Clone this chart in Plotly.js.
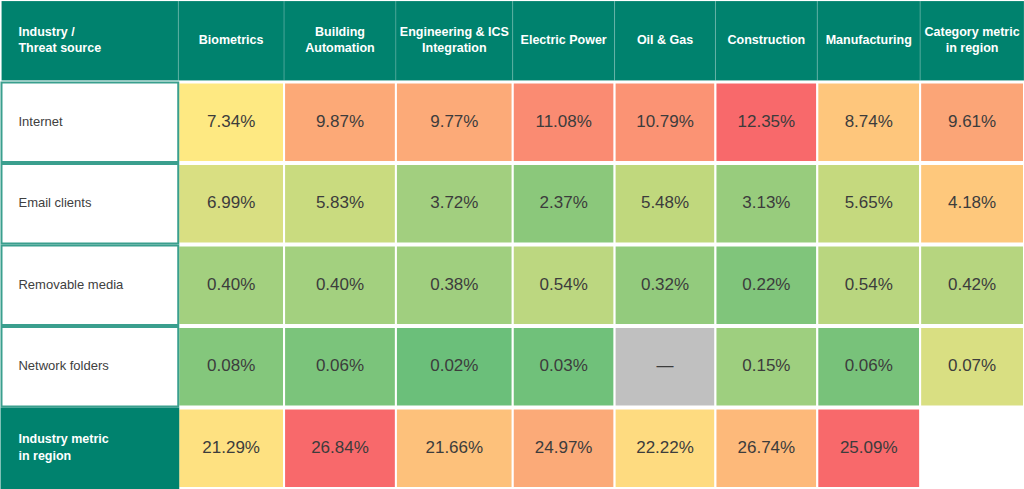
<!DOCTYPE html>
<html>
<head>
<meta charset="utf-8">
<script src="https://cdn.plot.ly/plotly-3.0.1.min.js"></script>
<style>
  html, body { margin: 0; padding: 0; background: #ffffff; }
  #chart { width: 1024px; height: 489px; }
</style>
</head>
<body>
<div id="chart"></div>
<script>
// ---------- DATA ----------
const cornerLabel = 'Industry /<br>Threat source';
const industries = ['Biometrics', 'Building<br>Automation', 'Engineering & ICS<br>Integration',
  'Electric Power', 'Oil & Gas', 'Construction', 'Manufacturing'];
const categoryColumnLabel = 'Category metric<br>in region';
const threatSources = ['Internet', 'Email clients', 'Removable media', 'Network folders'];
const totalRowLabel = 'Industry metric<br>in region';

// values per threat source: 7 industries + category metric in region (%)
const internet       = [7.34, 9.87, 9.77, 11.08, 10.79, 12.35, 8.74, 9.61];
const emailClients   = [6.99, 5.83, 3.72, 2.37, 5.48, 3.13, 5.65, 4.18];
const removableMedia = [0.40, 0.40, 0.38, 0.54, 0.32, 0.22, 0.54, 0.42];
const networkFolders = [0.08, 0.06, 0.02, 0.03, null, 0.15, 0.06, 0.07];
// industry metric in region (%)
const industryMetric = [21.29, 26.84, 21.66, 24.97, 22.22, 26.74, 25.09];

// ---------- STYLE ----------
const colWidths = [177, 106, 112, 117, 102, 101, 102, 103, 104];
const teal = '#00826e';
const tealBorder = '#3a9f8e';
const cellColors = [
  ['#fee982', '#fca977', '#fcaa78', '#fa8b72', '#fb9374', '#f8696b', '#fec67c', '#fba577'],
  ['#d9df82', '#c9db7f', '#a2cf7f', '#8bc87b', '#c0d87d', '#98cc7d', '#c5d97e', '#fec87c'],
  ['#a3d07f', '#a3d07f', '#a0cf7f', '#bcd780', '#93cb7d', '#80c57b', '#b9d67f', '#b6d57f'],
  ['#84c77c', '#7bc47b', '#6bbf7a', '#70c17a', '#c0c0c0', '#9ecf7f', '#78c27a', '#d9df82'],
  ['#fee181', '#f8696b', '#fdc17b', '#fbaa78', '#fedb80', '#fdb97a', '#f8696b', '#ffffff']
];
const valueFont = { family: '"Liberation Sans Narrow", "Arial Narrow", "Liberation Sans", Arial, sans-serif', size: 17, color: '#3c3c3c' };
const headFont = { family: '"Liberation Sans", Arial, sans-serif', size: 12.5, color: '#ffffff', weight: 'bold' };
const labelFont = { family: '"Liberation Sans", Arial, sans-serif', size: 13, color: '#404040' };
const labelX = 17;

// ---------- BUILD ----------
const rowKeys = ['head', ...threatSources, 'total'];
const valueRows = [internet, emailClients, removableMedia, networkFolders, industryMetric];
const nCols = colWidths.length;

const colLeft = [];
let acc = 0;
colWidths.forEach(w => { colLeft.push(acc); acc += w; });
const colCenter = colLeft.map((l, i) => l + colWidths[i] / 2);

const fillTraces = [];
for (let c = 0; c < nCols; c++) {
  const fills = [], lines = [], lw = [];
  rowKeys.forEach((k, r) => {
    if (r === 0) { fills.push(teal); lines.push('rgba(255,255,255,0.16)'); lw.push(1); }
    else if (c === 0) {
      if (k === 'total') { fills.push(teal); lines.push(teal); lw.push(2); }
      else { fills.push('#ffffff'); lines.push(tealBorder); lw.push(2); }
    } else {
      const col = cellColors[r - 1][c - 1];
      fills.push(col); lines.push('#ffffff'); lw.push(col === '#ffffff' ? 0 : 2);
    }
  });
  fillTraces.push({
    type: 'bar', orientation: 'h',
    y: rowKeys, x: rowKeys.map(() => colWidths[c]), base: rowKeys.map(() => colLeft[c]),
    marker: { color: fills, line: { color: lines, width: lw } },
    hoverinfo: 'skip', showlegend: false
  });
}
// draw the label column last so its teal frame stays on top
const traces = [...fillTraces.slice(1), fillTraces[0]];

// header texts
traces.push({
  type: 'scatter', mode: 'text', x: colCenter.slice(1), y: colCenter.slice(1).map(() => 'head'),
  text: [...industries, categoryColumnLabel], textposition: 'middle center',
  textfont: headFont, hoverinfo: 'skip', showlegend: false, cliponaxis: false
});
// left labels
traces.push({
  type: 'scatter', mode: 'text', x: [labelX, labelX], y: ['head', 'total'],
  text: [cornerLabel, totalRowLabel], textposition: 'middle right',
  textfont: headFont, hoverinfo: 'skip', showlegend: false, cliponaxis: false
});
traces.push({
  type: 'scatter', mode: 'text', x: threatSources.map(() => labelX), y: threatSources,
  text: threatSources, textposition: 'middle right',
  textfont: labelFont, hoverinfo: 'skip', showlegend: false, cliponaxis: false
});
// values
valueRows.forEach((vals, r) => {
  traces.push({
    type: 'scatter', mode: 'text',
    x: vals.map((v, i) => colCenter[i + 1]),
    y: vals.map(() => rowKeys[r + 1]),
    text: vals.map(v => v === null ? '—' : v.toFixed(2) + '%'),
    textposition: 'middle center', textfont: valueFont,
    hoverinfo: 'skip', showlegend: false, cliponaxis: false
  });
});

const layout = {
  width: 1024, height: 489,
  margin: { l: 0, r: 0, t: 0, b: 0, pad: 0 },
  paper_bgcolor: '#ffffff', plot_bgcolor: '#ffffff',
  barmode: 'overlay', bargap: 0.025,
  xaxis: { range: [-1.5, 1024], visible: false, fixedrange: true },
  yaxis: { type: 'category', categoryorder: 'array', categoryarray: rowKeys,
           range: [rowKeys.length - 0.5, -0.5], visible: false, fixedrange: true },
  showlegend: false
};

Plotly.newPlot('chart', traces, layout, { displayModeBar: false, staticPlot: true });
</script>
</body>
</html>
